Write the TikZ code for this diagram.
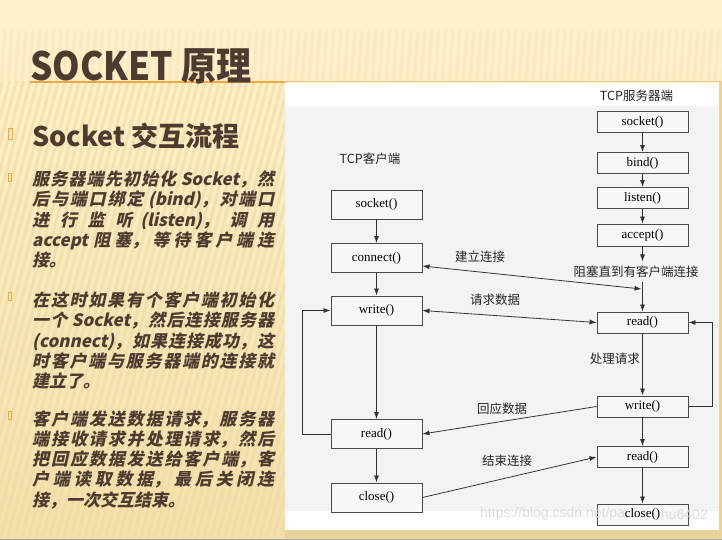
\documentclass[tikz,border=0pt]{standalone}
\usepackage{fontspec}
\setmainfont{Noto Sans CJK SC}
\newfontfamily\slidefont{Noto Sans CJK SC}
\newfontfamily\slideitfont{Noto Sans CJK SC}[FakeSlant=0.22]
\newfontfamily\fnfont{Liberation Serif}
\newfontfamily\wmfont{Liberation Sans}
\usetikzlibrary{arrows.meta,positioning}
\XeTeXlinebreaklocale "zh"
\XeTeXlinebreakskip = 0pt plus 5pt
\definecolor{slidetop}{HTML}{FEF2CE}
\definecolor{slidebot}{HTML}{F4E0AC}
\definecolor{stripe}{HTML}{F0DAA0}
\definecolor{stripgold}{HTML}{E9D29C}
\definecolor{titlebrown}{HTML}{4E3B2F}
\definecolor{bulletorange}{HTML}{F3A93C}
\definecolor{panelgray}{HTML}{F3F3F3}
\definecolor{boxline}{HTML}{4A4A4A}
\tikzset{
      fnbox/.style     = {draw=boxline, fill=black!3, line width=0.9pt, minimum width=91pt,
                          inner sep=0pt, font=\fnfont\fontsize{13}{13}\selectfont},
      clientbox/.style = {fnbox, minimum height=29pt},
      serverbox/.style = {fnbox, minimum height=21pt},
      flowedge/.style  = {black!80, line width=0.8pt, -{Latex[length=7pt,width=5pt]}},
      msgedge/.style   = {black!80, line width=0.8pt, {Latex[length=7pt,width=5pt]}-{Latex[length=7pt,width=5pt]}},
      msglabel/.style  = {inner sep=0pt, text=black!85, font=\slidefont\fontsize{12.5}{12.5}\selectfont},
      bulletbox/.style = {draw=bulletorange, line width=0.8pt, inner sep=0pt},
      para/.style      = {anchor=north west, inner sep=0pt, text width=242pt, align=justify, text=titlebrown,
                          font=\slideitfont\bfseries\fontsize{17}{20.25}\selectfont},
    }

\begin{document}
\begin{tikzpicture}[x=1pt, y=-1pt]
        \useasboundingbox (0,0) rectangle (722,540);
        % slide background
        \shade[top color=slidetop, bottom color=slidebot] (0,0) rectangle (722,540);
        \begin{scope}
          \clip (0,30) rectangle (722,82);
          \foreach \s in {-20,-13,...,722}
            \draw[stripe, line width=3pt, opacity=0.25] (\s,82) -- ++(4,-52);
        \end{scope}
        \begin{scope}
          \clip (0,82) rectangle (285,540);
          \foreach \s in {-140,-133,...,290}
            \draw[stripe, line width=3pt, opacity=0.6] (\s,540) -- ++(135,-510);
        \end{scope}
        \fill[stripgold] (285,530) rectangle (722,540);
        \fill[stripgold] (719,82) rectangle (722,540);
        \draw[black!35] (0,539.5) -- (722,539.5);
        \fill[white] (285,83) rectangle (719,530);
        \fill[panelgray] (285,106) rectangle (719,511);
        \draw[bulletorange!60, line width=1pt] (285,82) -- (722,82);
        \draw[bulletorange, line width=2pt] (30,82.5) -- (285,82.5);

        % slide text
        \node[anchor=base west, inner sep=0pt, text=titlebrown,
              font=\slidefont\bfseries\fontsize{39}{39}\selectfont] (title) at (30,81) {\scalebox{0.9}[1]{SOCKET 原理}};
        \node[bulletbox, minimum width=4.5pt, minimum height=11pt] (b0) at (10.5,134) {};
        \node[anchor=base west, inner sep=0pt, text=titlebrown,
              font=\slidefont\bfseries\fontsize{27}{27}\selectfont] (head) at (32,147) {Socket 交互流程};
        \node[bulletbox, minimum width=3.5pt, minimum height=8pt] (b1) at (10,177.5) {};
        \node[bulletbox, minimum width=3.5pt, minimum height=8pt] (b2) at (10,296.5) {};
        \node[bulletbox, minimum width=3.5pt, minimum height=8pt] (b3) at (10,415) {};
        \node[para] (p1) at (32,169.5) {\rule{0pt}{16pt}服务器端先初始化 Socket，然\linebreak 后与端口绑定 (bind)，对端口\linebreak 进行监听 (listen)，调用\linebreak accept 阻塞，等待客户端连\linebreak 接。};
        \node[para] (p2) at (32,290.5) {\rule{0pt}{16pt}在这时如果有个客户端初始化\linebreak 一个 Socket，然后连接服务器\linebreak (connect)，如果连接成功，这\linebreak 时客户端与服务器端的连接就\linebreak 建立了。};
        \node[para] (p3) at (32,409) {\rule{0pt}{16pt}客户端发送数据请求，服务器\linebreak 端接收请求并处理请求，然后\linebreak 把回应数据发送给客户端，客\linebreak 户端读取数据，最后关闭连\linebreak 接，一次交互结束。};

        % server side
        \node[msglabel] (servtitle) at (636.5,96) {TCP服务器端};
        \node[serverbox] (ssock) at (642.5,122) {socket()};
        \node[serverbox] (sbind) at (642.5,163) {bind()};
        \node[serverbox] (slisten) at (642.5,198) {listen()};
        \node[serverbox, minimum height=22pt] (saccept) at (642.5,235) {accept()};
        \node[msglabel, inner sep=4pt] (sblock) at (636,271.5) {阻塞直到有客户端连接};
        \node[serverbox] (sread) at (642.5,322.5) {read()};
        \node[msglabel, anchor=east] (sproc) at (640,359) {处理请求};
        \node[serverbox] (swrite) at (642.5,406.5) {write()};
        \node[serverbox] (sread2) at (642.5,457) {read()};
        \node[serverbox] (sclose) at (642.5,514.5) {close()};
        \coordinate (meet) at (641.5,289);

        % client side
        \node[msglabel] (clienttitle) at (370,158.5) {TCP客户端};
        \node[clientbox] (csock) at (376.5,204.5) {socket()};
        \node[clientbox] (cconn) at (376.5,258) {connect()};
        \node[clientbox] (cwrite) at (376.5,310.5) {write()};
        \node[clientbox] (cread) at (376.5,434) {read()};
        \node[clientbox] (cclose) at (376.5,497.5) {close()};

        \node[msglabel] (lconn) at (480,257) {建立连接};
        \node[msglabel] (lreq) at (495,300) {请求数据};
        \node[msglabel] (lresp) at (502,409) {回应数据};
        \node[msglabel] (lend) at (507,461) {结束连接};

        \path (csock) edge[flowedge] (cconn);
        \path (cconn) edge[flowedge] (cwrite);
        \path (cwrite) edge[flowedge] (cread);
        \path (cread) edge[flowedge] (cclose);
        \path (ssock) edge[flowedge] (sbind);
        \path (sbind) edge[flowedge] (slisten);
        \path (slisten) edge[flowedge] (saccept);
        \draw[flowedge] (saccept) -- (saccept |- sblock.north);
        \draw[flowedge] (saccept |- sblock.south) -- (sread);
        \path (sread) edge[flowedge] (swrite);
        \path (swrite) edge[flowedge] (sread2);
        \path (sread2) edge[flowedge] (sclose);

        \draw[msgedge] ([yshift=-8pt]cconn.east) -- (meet);
        \draw[msgedge] (cwrite.east) -- (sread.west);
        \draw[flowedge] (swrite.west) -- (cread.east);
        \draw[flowedge] (cclose.east) -- (sread2.west);
        \draw[flowedge] (cread.west) -- ++(-28,0) |- (cwrite.west);
        \draw[flowedge] (swrite.east) -- ++(24,0) |- (sread.east);

        \node[anchor=west, inner sep=0pt, text=black!14, font=\wmfont\fontsize{14}{14}\selectfont] (wm1) at (480,514) {https://blog.csdn.net/pa};
        \node[anchor=east, inner sep=0pt, text=black!14, font=\wmfont\fontsize{14}{14}\selectfont] (wm2) at (708,514) {hu6402};
        \end{tikzpicture}
\end{document}
